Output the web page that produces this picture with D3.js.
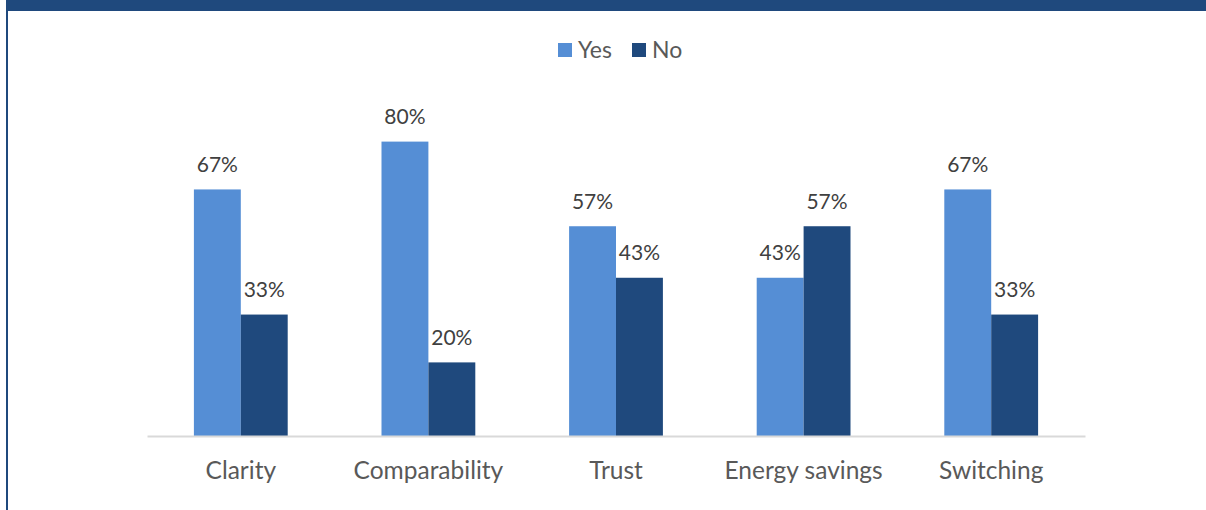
<!DOCTYPE html>
<html>
<head>
<meta charset="utf-8">
<script src="https://cdn.jsdelivr.net/npm/d3@7"></script>
<style>
  html, body { margin: 0; padding: 0; background: #fff; }
  svg { display: block; }
  text { font-family: Lato, "Open Sans", sans-serif; fill: #595959; }
</style>
</head>
<body>
<svg id="chart" width="1206" height="510"></svg>
<script>
const categories = ["Clarity", "Comparability", "Trust", "Energy savings", "Switching"];
const seriesNames = ["Yes", "No"];
const yesValues = [67, 80, 57, 43, 67];
const noValues = [33, 20, 43, 57, 33];
const colors = ["#558ed5", "#1f497d"];

const W = 1206, H = 510;
const svg = d3.select("#chart");

// frame: heading band and left rule
svg.append("rect").attr("x", 6).attr("y", 0).attr("width", W - 6).attr("height", 11).attr("fill", "#1f497d");
svg.append("rect").attr("x", 6).attr("y", 0).attr("width", 2).attr("height", H).attr("fill", "#1f497d");

const plot = { left: 147, right: 1085, top: 68, bottom: 436 };

const x0 = d3.scaleBand().domain(categories).range([plot.left, plot.right]).paddingInner(0).paddingOuter(0);
const x1 = d3.scaleBand().domain(seriesNames).range([x0.bandwidth() * 0.25, x0.bandwidth() * 0.75]);
const y = d3.scaleLinear().domain([0, 100]).range([plot.bottom, plot.top]);

const rows = categories.map((c, i) => ({ cat: c, vals: [yesValues[i], noValues[i]] }));

const groups = svg.append("g").selectAll("g").data(rows).join("g")
  .attr("transform", d => `translate(${x0(d.cat)},0)`);

groups.selectAll("rect").data(d => d.vals.map((v, j) => ({ s: seriesNames[j], v, j })))
  .join("rect")
  .attr("x", d => x1(d.s))
  .attr("y", d => y(d.v))
  .attr("width", x1.bandwidth())
  .attr("height", d => y(0) - y(d.v))
  .attr("fill", d => colors[d.j]);

groups.selectAll("text.val").data(d => d.vals.map((v, j) => ({ s: seriesNames[j], v, j })))
  .join("text")
  .attr("class", "val")
  .attr("x", d => x1(d.s) + x1.bandwidth() / 2)
  .attr("y", d => y(d.v) - 17.5)
  .attr("text-anchor", "middle")
  .attr("font-size", 21)
  .style("fill", "#404040")
  .text(d => d.v + "%");

// category axis
const xAxis = svg.append("g").attr("transform", `translate(0,${plot.bottom})`)
  .call(d3.axisBottom(x0).tickSize(0).tickPadding(26));
xAxis.select(".domain").attr("stroke", "#d9d9d9").attr("stroke-width", 2);
xAxis.selectAll("text").attr("font-size", 24.5).attr("fill", "#595959").attr("dy", "0.71em")
  .style("font-family", "Lato, 'Open Sans', sans-serif");

// legend
const legendItems = [
  { name: "Yes", color: colors[0], x: 558 },
  { name: "No", color: colors[1], x: 632 }
];
const lg = svg.append("g").selectAll("g").data(legendItems).join("g")
  .attr("transform", d => `translate(${d.x},43)`);
lg.append("rect").attr("width", 14).attr("height", 14).attr("fill", d => d.color);
lg.append("text").attr("x", 20).attr("y", 14.8).attr("font-size", 23).text(d => d.name);
</script>
</body>
</html>
